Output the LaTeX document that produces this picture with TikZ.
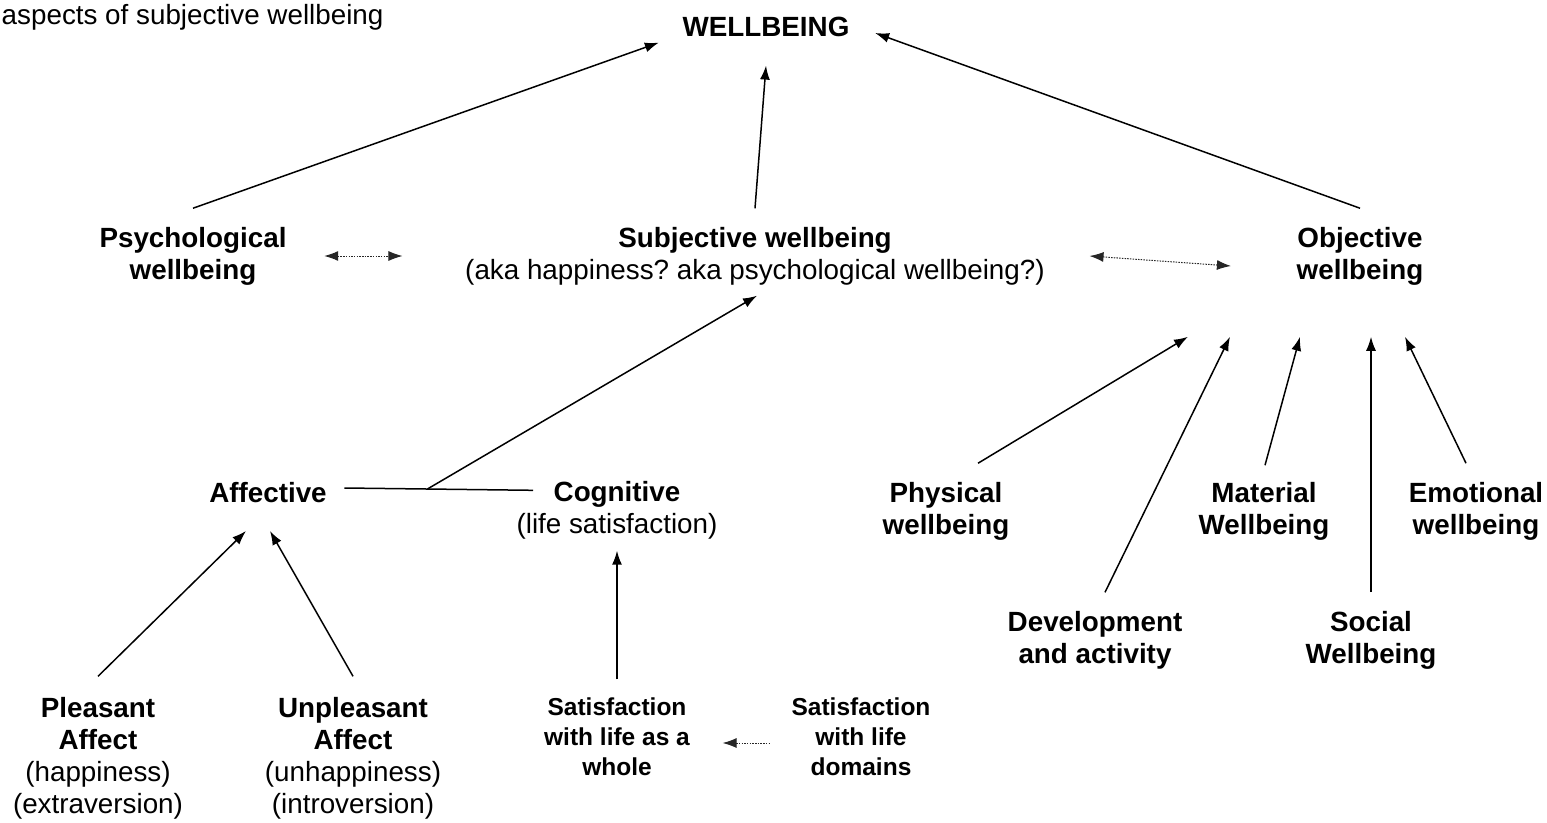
\documentclass[tikz,border=0pt]{standalone}
\usepackage{fontspec}
\setmainfont{Liberation Sans}
\usetikzlibrary{arrows.meta}
\frenchspacing
\tikzset{
	lbl/.style={align=center, inner sep=0pt, font=\fontsize{27.8}{32}\selectfont},
	blbl/.style={lbl, font=\bfseries\fontsize{27.8}{32}\selectfont},
	sml/.style={align=center, inner sep=0pt, font=\bfseries\fontsize{24.5}{30}\selectfont},
	dots/.style={<->, line width=1pt, dash pattern=on 1.5pt off 1.2pt, black!85}
}
\begin{document}
\begin{tikzpicture}[>={Latex[length=14pt,width=10pt]}, x=1pt, y=1pt, line width=1.5pt]
	\useasboundingbox (0,0) rectangle (1547,-822);
	\node[lbl,anchor=west] (ttl) at (1,-17) {aspects of subjective wellbeing};
	\node[blbl] (well) at (766,-27) {WELLBEING};
	\node[blbl] (psy) at (193,-256) {Psychological\\wellbeing};
	\node[lbl] (sub) at (755,-256) {\textbf{Subjective wellbeing}\\(aka happiness? aka psychological wellbeing?)};
	\node[blbl] (obj) at (1360,-256) {Objective\\wellbeing};
	\node[blbl] (aff) at (268,-493) {Affective};
	\node[lbl] (cog) at (617,-510) {\textbf{Cognitive}\\(life satisfaction)};
	\node[blbl] (phys) at (946,-511) {Physical\\wellbeing};
	\node[blbl] (mat) at (1264,-511) {Material\\Wellbeing};
	\node[blbl] (emo) at (1476,-511) {Emotional\\wellbeing};
	\node[blbl] (dev) at (1095,-640) {Development\\and activity};
	\node[blbl] (soc) at (1371,-640) {Social\\Wellbeing};
	\node[lbl] (plea) at (98,-758) {\textbf{Pleasant}\\\textbf{Affect}\\(happiness)\\(extraversion)};
	\node[lbl] (unpl) at (353,-758) {\textbf{Unpleasant}\\\textbf{Affect}\\(unhappiness)\\(introversion)};
	\node[sml] (satw) at (617,-737) {Satisfaction\\with life as a\\whole};
	\node[sml] (satd) at (861,-737) {Satisfaction\\with life\\domains};
	\draw[->] ([yshift=18pt]psy.north) -- ([shift={(-23,-5)}]well.south west);
	\draw[->] ([yshift=18pt]sub.north) -- ([yshift=-28pt]well.south);
	\draw[->] ([yshift=18pt]obj.north) -- ([shift={(25,-6)}]well.east);
	\draw[dots] ([xshift=37pt]psy.east) -- ([xshift=-62pt]sub.west);
	\draw[dots] ([xshift=44pt]sub.east) -- ([shift={(-65,-10)}]obj.west);
	\draw ([shift={(17,5)}]aff.east) -- coordinate[pos=0.44] (junc) ([shift={(-84,-10)}]cog.north);
	\draw[->] (junc) -- ([shift={(2,-10)}]sub.south);
	\foreach \n/\sx/\sy/\ex in {phys/32/18/-172,dev/10/18/-130,mat/1/16/-60,soc/0/18/11,emo/-10/18/45} {
		\draw[->] ([shift={(\sx,\sy)}]\n.north) -- ([shift={(\ex,-51)}]obj.south);
	}
	\draw[->] ([yshift=20pt]plea.north) -- ([shift={(-22,-27)}]aff.south);
	\draw[->] ([yshift=20pt]unpl.north) -- ([shift={(2,-27)}]aff.south);
	\draw[->] ([yshift=18pt]satw.north) -- ([yshift=-11pt]cog.south);
	\draw[dots,<-] ([shift={(32,-6)}]satw.east) -- ([shift={(-21,-6)}]satd.west);
\end{tikzpicture}
\end{document}
